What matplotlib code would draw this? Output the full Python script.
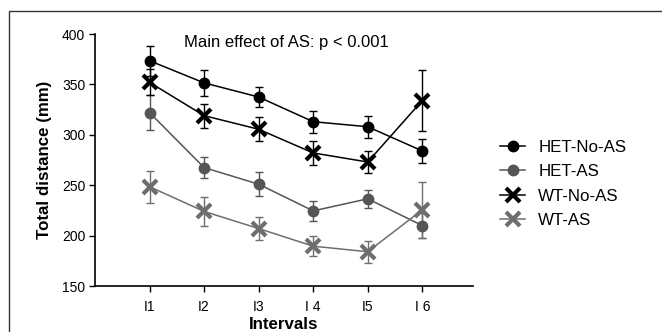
import matplotlib
matplotlib.use("Agg")
import matplotlib.pyplot as plt
from matplotlib.patches import Rectangle
import numpy as np

plt.rcParams['font.family'] = ['Liberation Sans', 'DejaVu Sans']

intervals = ["I1", "I2", "I3", "I 4", "I5", "I 6"]
het_no_as = [373.5, 351.5, 337.5, 313, 308, 284]
het_no_as_err = [15, 13, 10, 11, 11, 12]
het_as = [322, 267.5, 251, 224.5, 236.5, 210]
het_as_err = [17, 10, 12, 10, 9, 12]
wt_no_as = [352, 319, 305.5, 282, 273, 334]
wt_no_as_err = [13, 12, 12, 12, 11, 30]
wt_as = [248.5, 224, 207, 189.5, 184, 225.5]
wt_as_err = [16, 14, 11, 10, 11, 28]

W, H = 662, 332
fig = plt.figure(figsize=(W / 100, H / 100), dpi=100)
ax = fig.add_axes([95 / W, 1 - 286 / H, (473 - 95) / W, (286 - 34) / H])

x = np.arange(1, len(intervals) + 1)
series = [
    ("HET-No-AS", het_no_as, het_no_as_err, "o", "black", 7.5, 1.0),
    ("HET-AS", het_as, het_as_err, "o", "#555555", 7.5, 1.0),
    ("WT-No-AS", wt_no_as, wt_no_as_err, "x", "black", 10, 3.0),
    ("WT-AS", wt_as, wt_as_err, "x", "#6e6e6e", 10, 3.0),
]
handles = []
for name, vals, err, mk, col, ms, mew in series:
    ax.errorbar(x, vals, yerr=err, fmt="none", ecolor=col, elinewidth=1.0,
                capsize=3, capthick=1.0, zorder=2)
    h, = ax.plot(x, vals, color=col, lw=1.1, marker=mk, ms=ms, mew=mew,
                 mfc=col, mec=col, label=name, zorder=3)
    handles.append(h)

ax.set_xlim(0, 6.93)
ax.set_ylim(150, 400)
ax.set_yticks([150, 200, 250, 300, 350, 400])
ax.set_xticks(x)
ax.set_xticklabels(intervals)
ax.tick_params(axis='both', labelsize=10, length=4, width=1, direction='out', pad=3)
ax.tick_params(axis='x', pad=6)
for s in ["top", "right"]:
    ax.spines[s].set_visible(False)
for s in ["left", "bottom"]:
    ax.spines[s].set_linewidth(1.2)

ax.set_ylabel("Total distance (mm)", fontsize=12.2, fontweight="bold", labelpad=7)
ax.set_xlabel("Intervals", fontsize=12.2, fontweight="bold", labelpad=2)

ax.text(3.5, 392, "Main effect of AS: p < 0.001", fontsize=12, ha="center", va="center")

fig.legend(handles=handles, loc="center left", bbox_to_anchor=(500 / W, 1 - 184 / H),
           frameon=False, fontsize=12.2, handlelength=1.5, labelspacing=0.55,
           handletextpad=0.75, borderpad=0, borderaxespad=0)

fig.patches.append(Rectangle((9 / W, -0.1), 1.2, 1 - 11 / H + 0.1, transform=fig.transFigure,
                             fill=False, edgecolor="#333333", lw=1.0))

fig.savefig("out.png", dpi=100)
